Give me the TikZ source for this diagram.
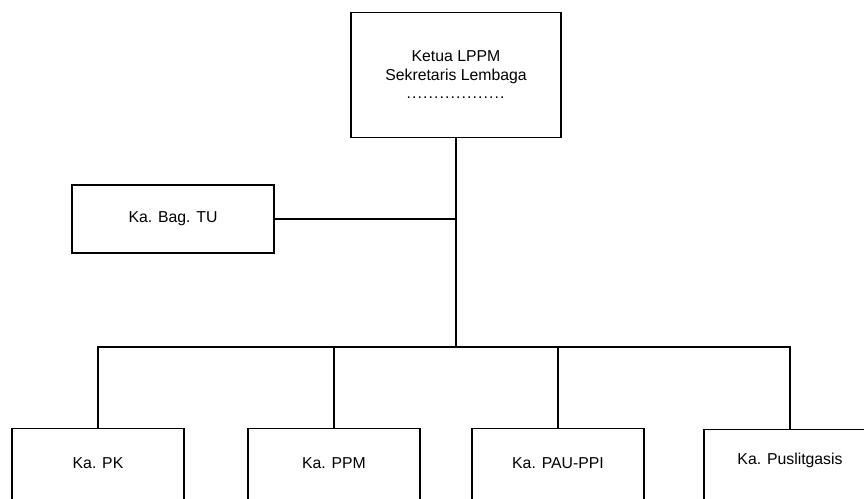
\documentclass[tikz,border=0pt]{standalone}
\usepackage{fontspec}
\setmainfont{Liberation Sans}
\begin{document}
\begin{tikzpicture}[x=1pt,y=-1pt,
  lbl/.style={font=\fontsize{15.8}{19}\selectfont},
  box/.style={draw, line width=1.4pt, inner sep=0pt, lbl, align=center},
  lowbox/.style={box, anchor=north, minimum width=172pt, inner ysep=0pt, text height=40pt, text depth=52pt},
  conn/.style={line width=1.2pt}]
\useasboundingbox (0,0) rectangle (864,498);
\clip (0,0) rectangle (864,498);
\node[box, minimum width=210pt, minimum height=125pt] (top) at (456,75)
  {Ketua LPPM\\Sekretaris Lembaga\\[-1pt]\makebox[100pt]{\leaders\hbox to 5.5pt{\hss.\hss}\hfill}};
\node[box, minimum width=202pt, minimum height=68pt] (tu) at (173,219) {Ka. Bag. TU};
\node[lowbox] (pk) at (98,428) {Ka. PK};
\node[lowbox] (ppm) at (334,428) {Ka. PPM};
\node[lowbox] (pau) at (558,428) {Ka. PAU-PPI};
\node[lowbox, text height=35pt, text depth=57pt] (pus) at (790,429) {Ka. Puslitgasis};
\coordinate (bus) at (456,347);
\draw[conn] (top.south) -- (bus);
\draw[conn] (tu.east) -- (tu.east -| top.south);
\draw[conn] (pk.north) -- (pk.north |- bus) -- (pus.north |- bus) -- (pus.north);
\draw[conn] (ppm.north) -- (ppm.north |- bus);
\draw[conn] (pau.north) -- (pau.north |- bus);
\end{tikzpicture}
\end{document}
